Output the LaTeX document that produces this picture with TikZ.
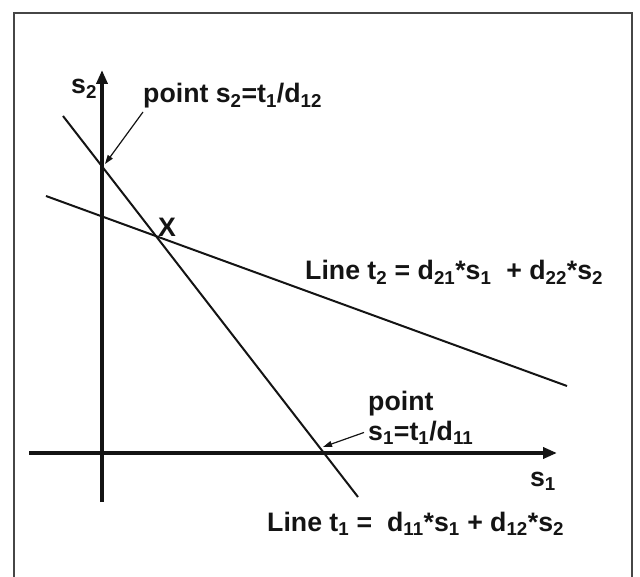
\documentclass[tikz,border=0pt]{standalone}
\usepackage{fontspec}
\setmainfont{Liberation Sans}
\usetikzlibrary{arrows.meta, positioning}
\definecolor{ink}{RGB}{20,20,20}
\definecolor{frm}{RGB}{70,70,70}
\tikzset{
  ax/.style={-{Triangle[length=14pt, width=11pt]}, line width=3.5pt, draw=ink},
  ln/.style={line width=2pt, draw=ink},
  % pointer from a label to a crossing
  ar/.style={-{Triangle[length=9pt, width=6pt]}, line width=1.2pt, draw=ink},
  lbl/.style={font=\fontsize{26.7}{32}\selectfont\bfseries, text=ink, inner sep=0pt}
}

\begin{document}
\begin{tikzpicture}[x=1pt, y=-1pt]
    \useasboundingbox (0,0) rectangle (640,577);
    \draw[frm, line width=1.5pt] (14,577) -- (14,13) -- (632,13) -- (632,577);

    \coordinate (s2b) at (102,502);
    \coordinate (s2t) at (102,70);
    \coordinate (s1l) at (29,453);
    \coordinate (s1r) at (557,453);
    \coordinate (a1) at (63,116);
    \coordinate (a2) at (358,497);
    \coordinate (b1) at (46,196);
    \coordinate (b2) at (567,386);
    \coordinate (p2) at (105,164);
    \coordinate (p1) at (323,447);

    \draw[ax] (s2b) -- (s2t);
    \draw[ax] (s1l) -- (s1r);
    \draw[ln] (a1) -- (a2);
    \draw[ln] (b1) -- (b2);

    \node[lbl, anchor=base west] (ls2) at (71,94) {s\textsubscript{2}};
    \node[lbl, anchor=base west] (pt2) at (143,103) {point s\textsubscript{2}=t\textsubscript{1}/d\textsubscript{12}};
    \node[lbl, anchor=base west] (lx) at (158,237) {X};
    \node[lbl, anchor=base west] (lt2) at (305,280) {Line t\textsubscript{2} = d\textsubscript{21}*s\textsubscript{1}\ \ + d\textsubscript{22}*s\textsubscript{2}};
    \node[lbl, anchor=base west] (pt1a) at (368,410) {point};
    \node[lbl, anchor=base west] (pt1b) at (368,440) {s\textsubscript{1}=t\textsubscript{1}/d\textsubscript{11}};
    \node[lbl, anchor=base east] (ls1) at (556,486) {s\textsubscript{1}};
    \node[lbl, anchor=base west] (lt1) at (267,531) {Line t\textsubscript{1} =\ \ d\textsubscript{11}*s\textsubscript{1} + d\textsubscript{12}*s\textsubscript{2}};

    \draw[ar] ([yshift=-9pt]pt2.base west) -- (p2);
    \draw[ar] ([xshift=-4pt]pt1b.west) -- (p1);
  \end{tikzpicture}
\end{document}
